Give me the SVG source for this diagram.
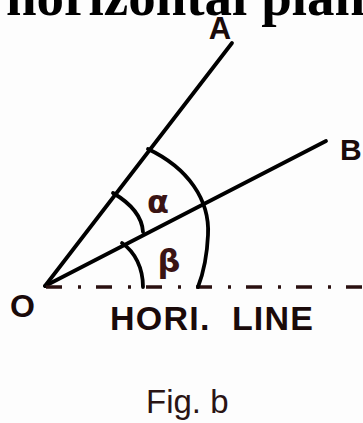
<svg xmlns="http://www.w3.org/2000/svg" width="363" height="423" viewBox="0 0 363 423">
<style>
.ln{stroke:#000;stroke-width:3.8;fill:none;stroke-linecap:round}
.dl{stroke:#2a1010;stroke-width:3.4;fill:none;stroke-dasharray:16 16 3 15}
.lb{font-family:"Liberation Sans",Arial,sans-serif;font-weight:bold;fill:#1a0a0a}
.gr{font-family:"DejaVu Sans","Liberation Sans",sans-serif;font-weight:bold;fill:#3a1414}
</style>
<rect width="363" height="423" fill="#fdfdfd"/>
<g id="title"><text x="6" y="15" font-family="'Liberation Serif','Times New Roman',serif" font-weight="bold" font-size="55" fill="#000">horizontal plane</text></g>
<g id="connectors">
<line class="ln" x1="45" y1="286" x2="232" y2="43"/>
<line class="ln" x1="45" y1="286" x2="326" y2="141"/>
<line class="dl" x1="46" y1="287" x2="363" y2="287"/>
<path class="ln" d="M148,149 C188,168 210,200 208,235 C207,258 203,274 198,287"/>
<path class="ln" d="M113,193 C130,203 142,215 143,232"/>
<path class="ln" d="M122,243 C135,252 143,268 143,287"/>
</g>
<g id="node-A"><text class="lb" x="220" y="39" font-size="31" text-anchor="middle">A</text></g>
<g id="node-B"><text class="lb" x="340" y="160" font-size="30">B</text></g>
<g id="node-O"><text class="lb" x="10" y="317" font-size="32">O</text></g>
<g id="alpha"><text class="gr" x="158" y="213" font-size="32" text-anchor="middle">α</text></g>
<g id="beta"><text class="gr" x="169" y="272" font-size="32" text-anchor="middle">β</text></g>
<g id="hori"><text class="lb" x="110" y="330" font-size="34" textLength="203" lengthAdjust="spacing" xml:space="preserve">HORI.  LINE</text></g>
<g id="caption"><text x="146" y="413" font-family="'Liberation Sans',Arial,sans-serif" font-size="33" fill="#2a1414">Fig. b</text></g>
</svg>
